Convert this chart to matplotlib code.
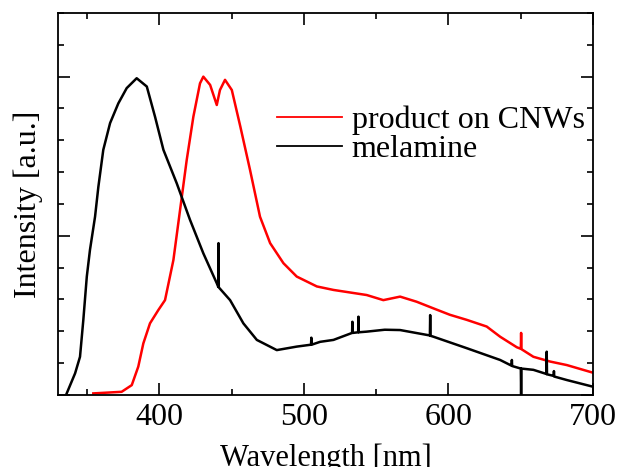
import matplotlib
matplotlib.use("Agg")
import matplotlib.pyplot as plt

# melamine spectrum, spikes included as up/down points
mel_x = [336, 341.8, 345.2, 347.5, 349.9, 352.1, 355.6, 357.9, 361.3, 366, 371.7, 377.5, 384.4,
         391.4, 397.1, 402.9, 412.1, 421.3, 430.5, 439.8, 440.8, 441, 441.2, 449, 458.2, 467.5,
         481.3, 495.1, 505, 505.2, 505.4, 511.3, 520.5, 533.4, 533.6, 533.8, 537.6, 537.8, 538,
         543.5, 556, 566.6, 587.2, 587.4, 587.6, 589.7, 612.7, 635.8, 643.7, 643.9, 644.1, 650.1,
         650.3, 650.5, 658.8, 667.8, 668, 668.2, 672.8, 673, 673.2, 681.9, 700]
mel_y = [0.05, 0.68, 1.2, 2.36, 3.72, 4.56, 5.6, 6.54, 7.7, 8.54, 9.16, 9.64, 9.95,
         9.69, 8.74, 7.7, 6.65, 5.5, 4.45, 3.51, 3.4, 4.77, 3.38, 2.98, 2.25, 1.73,
         1.41, 1.52, 1.58, 1.8, 1.58, 1.67, 1.73, 1.95, 2.3, 1.95, 1.97, 2.46, 1.97,
         1.99, 2.05, 2.04, 1.87, 2.51, 1.86, 1.83, 1.47, 1.1, 0.92, 1.1, 0.91, 0.83,
         0.0, 0.83, 0.79, 0.66, 1.36, 0.65, 0.6, 0.75, 0.58, 0.47, 0.26]

# product on CNWs spectrum
cnw_x = [354.4, 374, 381, 385.5, 389, 393.6, 399.4, 404, 409.8, 414.4, 419, 423.6, 428.2,
         430.5, 435.2, 439.8, 442, 445.5, 450.2, 456.1, 462.8, 469.7, 476.7, 485.9, 495.1, 509,
         520.5, 543.5, 555, 566.6, 578, 589.7, 601, 612.7, 626.5, 635.8, 647.3, 650.1, 650.3,
         650.5, 658.8, 670.4, 681.9, 700]
cnw_y = [0.05, 0.1, 0.31, 0.89, 1.62, 2.25, 2.67, 2.98, 4.24, 5.81, 7.38, 8.74, 9.79,
         10.0, 9.74, 9.11, 9.58, 9.9, 9.58, 8.43, 7.07, 5.6, 4.77, 4.14, 3.72, 3.41,
         3.3, 3.14, 2.98, 3.09, 2.93, 2.72, 2.52, 2.36, 2.15, 1.83, 1.5, 1.45, 1.95,
         1.44, 1.2, 1.05, 0.94, 0.70]

xticks = [400, 500, 600, 700]

plt.rcParams['font.family'] = ['Liberation Serif', 'DejaVu Serif']
fig = plt.figure(figsize=(6.18, 4.67), dpi=100)
ax = fig.add_axes([0.0939, 0.1542, 0.8656, 0.818])

ax.plot(cnw_x, cnw_y, c='#ff0000', lw=1.8, label='product on CNWs')
ax.plot(mel_x, mel_y, c='black', lw=1.8, label='melamine')

ax.set_xlim(330, 700)
ax.set_ylim(0, 12)
ax.set_xticks(xticks)
ax.set_xticks(range(350, 700, 100), minor=True)
ax.set_yticks([0, 5, 10])
ax.set_yticks(range(0, 13), minor=True)
ax.set_yticklabels([])
ax.tick_params(which='both', direction='in', top=True, right=True, width=1.2, labelsize=23, pad=6)
ax.tick_params(which='major', length=8.5)
ax.tick_params(which='minor', length=4.3)
for s in ax.spines.values():
    s.set_linewidth(1.3)

ax.set_xlabel('Wavelength [nm]', fontsize=22, labelpad=8)
ax.set_ylabel('Intensity [a.u.]', fontsize=23, labelpad=5)

leg = ax.legend(loc='upper left', bbox_to_anchor=(0.385, 0.79), frameon=False, fontsize=23,
                handlelength=2.05, handletextpad=0.3, labelspacing=-0.03, borderaxespad=0)
for l in leg.get_lines():
    l.set_linewidth(1.3)

fig.savefig('out.png', dpi=100)
